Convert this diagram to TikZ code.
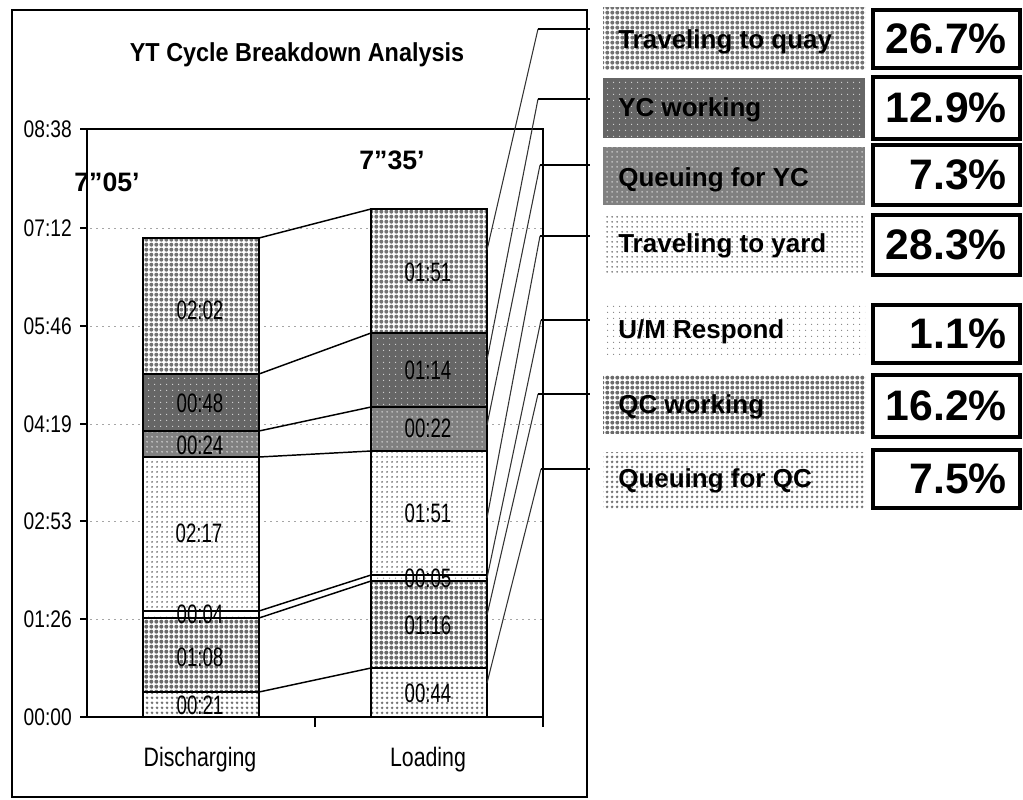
\documentclass[tikz,border=0pt]{standalone}
\usepackage{fontspec}
\setmainfont{Liberation Sans}
\newfontfamily\narrowfont[FakeStretch=0.8]{Liberation Sans}
\newfontfamily\valfont[FakeStretch=0.7]{Liberation Sans}
\newfontfamily\headfont[FakeStretch=0.9]{Liberation Sans}
\usetikzlibrary{patterns}

% dot screens used as fills
\pgfdeclarepatternformonly{dotsA}{\pgfqpoint{0pt}{0pt}}{\pgfqpoint{3.6pt}{3.6pt}}{\pgfqpoint{3.6pt}{3.6pt}}%
  {\pgfpathcircle{\pgfqpoint{1.8pt}{1.8pt}}{1.55pt}\pgfusepath{fill}}
\pgfdeclarepatternformonly{dotsB}{\pgfqpoint{0pt}{0pt}}{\pgfqpoint{3.75pt}{3.75pt}}{\pgfqpoint{3.75pt}{3.75pt}}%
  {\pgfpathcircle{\pgfqpoint{1.875pt}{1.875pt}}{1.3pt}\pgfusepath{fill}}
\pgfdeclarepatternformonly{dotsC}{\pgfqpoint{0pt}{0pt}}{\pgfqpoint{3.75pt}{3.75pt}}{\pgfqpoint{3.75pt}{3.75pt}}%
  {\pgfpathcircle{\pgfqpoint{1.875pt}{1.875pt}}{0.85pt}\pgfusepath{fill}}
\pgfdeclarepatternformonly{dotsD}{\pgfqpoint{0pt}{0pt}}{\pgfqpoint{4.2pt}{4.2pt}}{\pgfqpoint{4.2pt}{4.2pt}}%
  {\pgfpathcircle{\pgfqpoint{2.1pt}{2.1pt}}{0.5pt}\pgfusepath{fill}}

\tikzset{
  tq/.style={fill=white, postaction={pattern=dotsA, pattern color=black!55}},
  yw/.style={fill=black!60, postaction={pattern=dotsD, pattern color=white!85!black}},
  qy/.style={fill=black!50, postaction={pattern=dotsC, pattern color=white!80!black}},
  ty/.style={fill=white, postaction={pattern=dotsC, pattern color=black!60}},
  um/.style={fill=white, postaction={pattern=dotsD, pattern color=black!50}},
  qw/.style={fill=white, postaction={pattern=dotsA, pattern color=black!58}},
  qq/.style={fill=white, postaction={pattern=dotsB, pattern color=black!55}},
  segline/.style={draw=black, line width=1.1pt},
  link/.style={draw=black, line width=1.1pt},
  leader/.style={draw=black!80, line width=0.8pt},
  leaderend/.style={draw=black, line width=1pt},
  gridline/.style={draw=black!35, line width=0.6pt, dash pattern=on 1.5pt off 3pt},
  axislbl/.style={font=\narrowfont\fontsize{18}{20}\selectfont, anchor=east, inner sep=0pt},
  catlbl/.style={font=\narrowfont\fontsize{20}{22}\selectfont, inner sep=0pt},
  vallbl/.style={font=\valfont\fontsize{20}{22}\selectfont, inner sep=0pt},
  totlbl/.style={font=\bfseries\fontsize{20}{22}\selectfont, inner sep=0pt},
  legtext/.style={font=\bfseries\fontsize{19.5}{22}\selectfont, anchor=west, inner sep=0pt},
  pctbox/.style={draw=black, line width=2.6pt, fill=white},
  pcttext/.style={font=\bfseries\fontsize{32}{34}\selectfont, anchor=east, inner sep=0pt},
}

\begin{document}
\begin{tikzpicture}[x=0.75pt, y=-0.75pt]
\useasboundingbox (0,0) rectangle (1023,799);

% chart frame
\draw[line width=1pt] (12,10) rectangle (587,797);
\node[font=\headfont\bfseries\fontsize{19.5}{22}\selectfont, inner sep=0pt] (title) at (297,55) {YT Cycle Breakdown Analysis};

% horizontal grid
\foreach \g in {228,326,424,521,619} \draw[gridline] (90,\g) -- (543,\g);

% plot area and axes
\draw[line width=1pt] (82,129) -- (543,129) -- (543,727);
\draw[line width=1.1pt] (87,129) -- (87,717) -- (543,717);
\foreach \g in {129,228,326,424,521,619,717} \draw[line width=1pt] (80,\g) -- (87,\g);
\draw[line width=1pt] (315,717) -- (315,727);

\node[axislbl] (y0) at (72,717) {00:00};
\node[axislbl] (y1) at (72,619) {01:26};
\node[axislbl] (y2) at (72,521) {02:53};
\node[axislbl] (y3) at (72,424) {04:19};
\node[axislbl] (y4) at (72,326) {05:46};
\node[axislbl] (y5) at (72,228) {07:12};
\node[axislbl] (y6) at (72,129) {08:38};

\node[catlbl] (cDis) at (200,760) {Discharging};
\node[catlbl] (cLoa) at (428,760) {Loading};

% Discharging bar
\path[qq] (143,717) rectangle (259,692);
\path[qw] (143,692) rectangle (259,618);
\path[um] (143,618) rectangle (259,611);
\path[ty] (143,611) rectangle (259,457);
\path[qy] (143,457) rectangle (259,431);
\path[yw] (143,431) rectangle (259,374);
\path[tq] (143,374) rectangle (259,238);
\foreach \a/\b in {717/692,692/618,618/611,611/457,457/431,431/374,374/238}
  \draw[segline] (143,\a) rectangle (259,\b);

% Loading bar
\path[qq] (371,717) rectangle (487,668);
\path[qw] (371,668) rectangle (487,581);
\path[um] (371,581) rectangle (487,575);
\path[ty] (371,575) rectangle (487,451);
\path[qy] (371,451) rectangle (487,407);
\path[yw] (371,407) rectangle (487,333);
\path[tq] (371,333) rectangle (487,209);
\foreach \a/\b in {717/668,668/581,581/575,575/451,451/407,407/333,333/209}
  \draw[segline] (371,\a) rectangle (487,\b);

% segment values
\node[vallbl] (d1) at (200,705) {00:21};
\node[vallbl] (d2) at (200,657) {01:08};
\node[vallbl] (d3) at (200,614) {00:04};
\node[vallbl] (d4) at (199,533) {02:17};
\node[vallbl] (d5) at (200,445) {00:24};
\node[vallbl] (d6) at (200,403) {00:48};
\node[vallbl] (d7) at (200,310) {02:02};
\node[vallbl] (l1) at (428,693) {00:44};
\node[vallbl] (l2) at (428,625) {01:16};
\node[vallbl] (l3) at (428,578) {00:05};
\node[vallbl] (l4) at (428,513) {01:51};
\node[vallbl] (l5) at (428,428) {00:22};
\node[vallbl] (l6) at (428,370) {01:14};
\node[vallbl] (l7) at (428,272) {01:51};

% totals
\node[totlbl] (totDis) at (107,182) {7”05’};
\node[totlbl] (totLoa) at (392,160) {7”35’};

% series links between the bars
\coordinate (dB1) at (259,692); \coordinate (lB1) at (371,668);
\coordinate (dB2) at (259,618); \coordinate (lB2) at (371,581);
\coordinate (dB3) at (259,611); \coordinate (lB3) at (371,575);
\coordinate (dB4) at (259,457); \coordinate (lB4) at (371,451);
\coordinate (dB5) at (259,431); \coordinate (lB5) at (371,407);
\coordinate (dB6) at (259,374); \coordinate (lB6) at (371,333);
\coordinate (dB7) at (259,238); \coordinate (lB7) at (371,209);
\foreach \i in {1,...,7} \draw[link] (dB\i) -- (lB\i);

% leader lines to the legend
\coordinate (p1) at (487,250); \coordinate (k1) at (538,29);  \coordinate (e1) at (590,29);
\coordinate (p2) at (487,360); \coordinate (k2) at (538,99);  \coordinate (e2) at (590,99);
\coordinate (p3) at (487,425); \coordinate (k3) at (540,165); \coordinate (e3) at (590,165);
\coordinate (p4) at (487,518); \coordinate (k4) at (540,236); \coordinate (e4) at (590,236);
\coordinate (p5) at (487,578); \coordinate (k5) at (541,320); \coordinate (e5) at (590,320);
\coordinate (p6) at (487,615); \coordinate (k6) at (538,394); \coordinate (e6) at (590,394);
\coordinate (p7) at (487,683); \coordinate (k7) at (541,469); \coordinate (e7) at (590,469);
\foreach \i in {1,...,7} {
  \draw[leader] (p\i) -- (k\i);
  \draw[leaderend] (k\i) -- (e\i);
}

% legend
\path[tq] (603,8) rectangle (865,70);
\path[yw] (603,78) rectangle (865,138);
\path[qy] (603,147) rectangle (865,205);
\path[ty] (603,215) rectangle (865,273);
\path[um] (603,302) rectangle (865,357);
\path[qw] (603,375) rectangle (865,433);
\path[qq] (603,452) rectangle (865,508);

\node[legtext] (gTq) at (618,42)  {Traveling to quay};
\node[legtext] (gYw) at (618,110) {YC working};
\node[legtext] (gQy) at (618,180) {Queuing for YC};
\node[legtext] (gTy) at (618,246) {Traveling to yard};
\node[legtext] (gUm) at (618,332) {U/M Respond};
\node[legtext] (gQw) at (618,407) {QC working};
\node[legtext] (gQq) at (618,481) {Queuing for QC};

\draw[pctbox] (873,10)  rectangle (1020,68);
\draw[pctbox] (873,77)  rectangle (1020,139);
\draw[pctbox] (873,145) rectangle (1020,205);
\draw[pctbox] (873,215) rectangle (1020,275);
\draw[pctbox] (873,305) rectangle (1020,363);
\draw[pctbox] (873,375) rectangle (1020,437);
\draw[pctbox] (873,450) rectangle (1020,508);

\node[pcttext] (vTq) at (1007,39)  {26.7\%};
\node[pcttext] (vYw) at (1007,108) {12.9\%};
\node[pcttext] (vQy) at (1007,175) {7.3\%};
\node[pcttext] (vTy) at (1007,245) {28.3\%};
\node[pcttext] (vUm) at (1007,334) {1.1\%};
\node[pcttext] (vQw) at (1007,406) {16.2\%};
\node[pcttext] (vQq) at (1007,479) {7.5\%};
\end{tikzpicture}
\end{document}
